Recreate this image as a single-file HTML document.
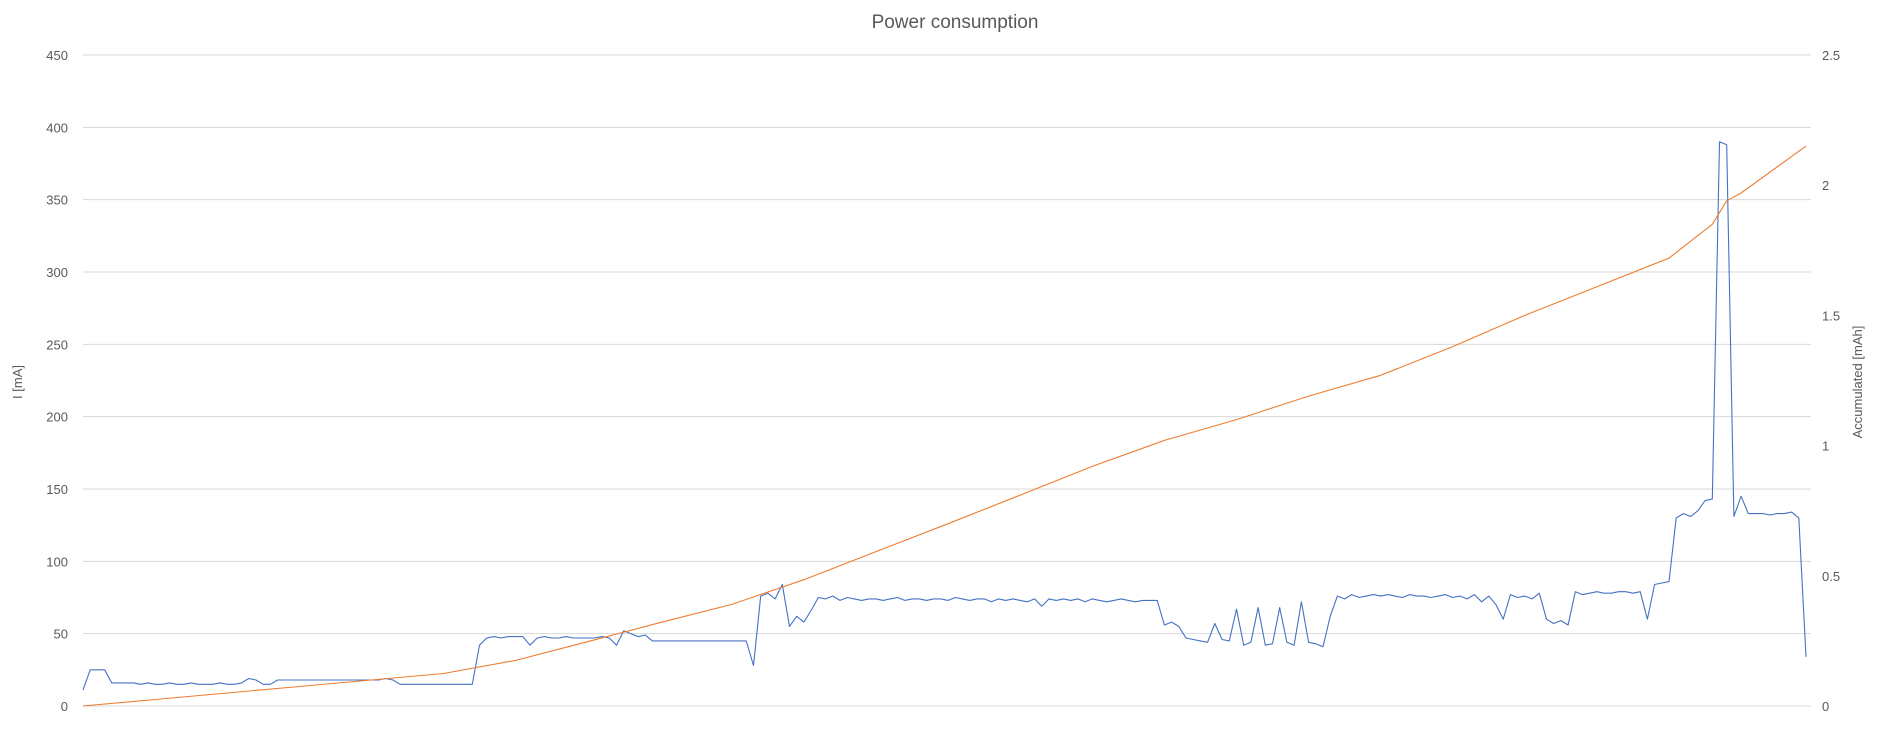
<!DOCTYPE html>
<html><head><meta charset="utf-8"><style>
html,body{margin:0;padding:0;background:#fff;}
svg{display:block;font-family:"Liberation Sans",sans-serif;}
</style></head><body>
<svg id="chart" width="1883" height="741">
<text x="955" y="28" text-anchor="middle" font-size="19" fill="#595959">Power consumption</text>
<g id="grid"></g>
<g id="lt"></g>
<g id="rt"></g>
<text transform="translate(22,382) rotate(-90)" text-anchor="middle" font-size="13" fill="#595959">I [mA]</text>
<text transform="translate(1862,382) rotate(-90)" text-anchor="middle" font-size="13" fill="#595959">Accumulated [mAh]</text>
<path id="blue" fill="none" stroke="#4472c4" stroke-width="1.1" stroke-linejoin="round"/>
<path id="orange" fill="none" stroke="#ed7d31" stroke-width="1.1" stroke-linejoin="round"/>
</svg>
<script>
const leftTicks=[0,50,100,150,200,250,300,350,400,450];
const rightTicks=["0","0.5","1","1.5","2","2.5"];
const current=[11,25,25,25,16,16,16,16,15,16,
15,15,16,15,15,16,15,15,15,16,
15,15,16,19,18,15,15,18,18,18,
18,18,18,18,18,18,18,18,18,18,
18,18,19,18,15,15,15,15,15,15,
15,15,15,15,15,42,47,48,47,48,
48,48,42,47,48,47,47,48,47,47,
47,47,48,47,42,52,50,48,49,45,
45,45,45,45,45,45,45,45,45,45,
45,45,45,28,76,78,74,84,55,62,
58,66,75,74,76,73,75,74,73,74,
74,73,74,75,73,74,74,73,74,74,
73,75,74,73,74,74,72,74,73,74,
73,72,74,69,74,73,74,73,74,72,
74,73,72,73,74,73,72,73,73,73,
56,58,55,47,46,45,44,57,46,45,
67,42,44,68,42,43,68,44,42,72,
44,43,41,62,76,74,77,75,76,77,
76,77,76,75,77,76,76,75,76,77,
75,76,74,77,72,76,70,60,77,75,
76,74,78,60,57,59,56,79,77,78,
79,78,78,79,79,78,79,60,84,85,
86,130,133,131,135,142,143,390,388,131,
145,133,133,133,132,133,133,134,130,34];
const accTime=[0,10,20,30,40,50,60,70,80,90,100,110,120,130,140,150,160,170,180,190,200,210,220,226,228,230,239];
const accumulated=[0,0.025,0.05,0.075,0.10,0.125,0.175,0.247,0.32,0.39,0.485,0.593,0.70,0.81,0.92,1.02,1.10,1.19,1.27,1.38,1.50,1.61,1.72,1.85,1.94,1.97,2.15];

const X0=83,X1=1806,Y0=706,Y1=55,TMAX=239;
const xS=t=>X0+t*(X1-X0)/TMAX;
const yL=v=>Y0-v/450*(Y0-Y1);
const yR=v=>Y0-v/2.5*(Y0-Y1);
const NS="http://www.w3.org/2000/svg";
const grid=document.getElementById('grid'),lt=document.getElementById('lt'),rt=document.getElementById('rt');
leftTicks.forEach(v=>{
  const l=document.createElementNS(NS,'line');
  l.setAttribute('x1',X0);l.setAttribute('x2',1811);
  l.setAttribute('y1',yL(v));l.setAttribute('y2',yL(v));
  l.setAttribute('stroke','#d9d9d9');l.setAttribute('stroke-width','1');
  
  
  grid.appendChild(l);
  const t=document.createElementNS(NS,'text');
  t.setAttribute('x',68);t.setAttribute('y',yL(v)+5);
  t.setAttribute('text-anchor','end');t.setAttribute('font-size','13');t.setAttribute('fill','#595959');
  t.textContent=v;
  
  
  lt.appendChild(t);
});
rightTicks.forEach(s=>{
  const t=document.createElementNS(NS,'text');
  t.setAttribute('x',1822);t.setAttribute('y',yR(parseFloat(s))+5);
  t.setAttribute('font-size','13');t.setAttribute('fill','#595959');
  t.textContent=s;
  
  
  rt.appendChild(t);
});
document.getElementById('blue').setAttribute('d',current.map((v,i)=>(i?'L':'M')+xS(i).toFixed(1)+','+yL(v).toFixed(1)).join(''));
document.getElementById('orange').setAttribute('d',accumulated.map((v,i)=>(i?'L':'M')+xS(accTime[i]).toFixed(1)+','+yR(v).toFixed(1)).join(''));
</script>
</body></html>
